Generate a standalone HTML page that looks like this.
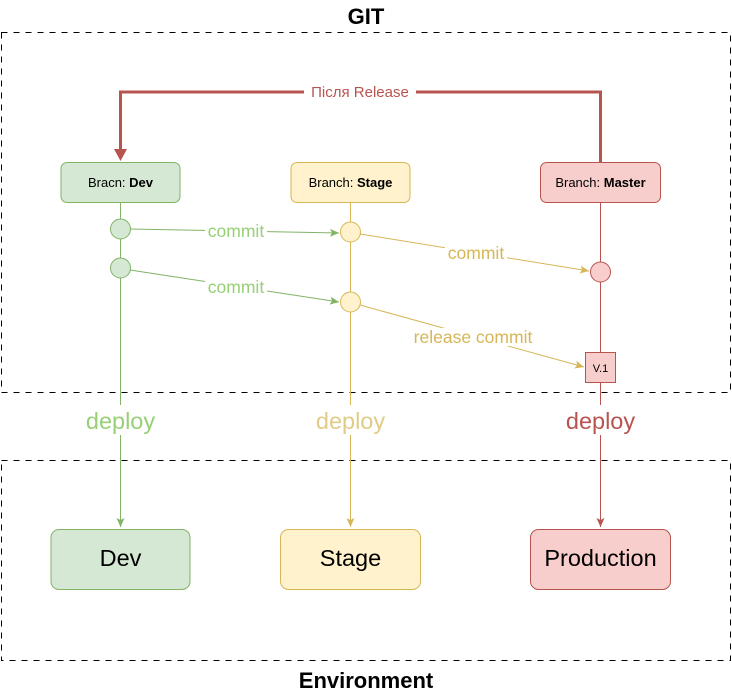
<!DOCTYPE html>
<html><head><meta charset="utf-8"><style>body{margin:0;background:#fff}svg{display:block}</style></head><body>
<svg width="732" height="696" xmlns="http://www.w3.org/2000/svg" font-family="Liberation Sans, Arial, sans-serif">
<defs>
<marker id="ag" markerWidth="10" markerHeight="10" refX="9" refY="5" orient="auto" markerUnits="userSpaceOnUse"><path d="M0,1 L9,5 L0,9 L2,5 z" fill="#82b366"/></marker>
<marker id="ay" markerWidth="10" markerHeight="10" refX="9" refY="5" orient="auto" markerUnits="userSpaceOnUse"><path d="M0,1 L9,5 L0,9 L2,5 z" fill="#d6b656"/></marker>
<marker id="ar" markerWidth="10" markerHeight="10" refX="9" refY="5" orient="auto" markerUnits="userSpaceOnUse"><path d="M0,1 L9,5 L0,9 L2,5 z" fill="#b85450"/></marker>
</defs>
<rect x="1.5" y="32.5" width="729" height="360" fill="none" stroke="#000" stroke-dasharray="6,6"/>
<rect x="1.5" y="460.5" width="729" height="200" fill="none" stroke="#000" stroke-dasharray="6,6"/>
<text x="366" y="24" text-anchor="middle" font-size="22" font-weight="bold">GIT</text>
<text x="366" y="688" text-anchor="middle" font-size="22" font-weight="bold">Environment</text>
<line x1="120.5" y1="202" x2="120.5" y2="527" stroke="#82b366" marker-end="url(#ag)"/>
<line x1="350.5" y1="202" x2="350.5" y2="527" stroke="#d6b656" marker-end="url(#ay)"/>
<line x1="600.5" y1="202" x2="600.5" y2="527" stroke="#b85450" marker-end="url(#ar)"/>
<path d="M600.5,162 V92 H120.5 V158" fill="none" stroke="#b85450" stroke-width="3"/>
<path d="M114,149 L127,149 L120.5,161 z" fill="#b85450"/>
<rect x="304" y="83" width="112" height="18" fill="#fff"/>
<text x="360" y="97" text-anchor="middle" font-size="15" fill="#b85450">Після Release</text>
<rect x="61" y="162.5" width="119" height="40" rx="6" fill="#d5e8d4" stroke="#82b366"/>
<text x="120.5" y="187" text-anchor="middle" font-size="13">Bracn: <tspan font-weight="bold">Dev</tspan></text>
<rect x="291" y="162.5" width="119" height="40" rx="6" fill="#fff2cc" stroke="#d6b656"/>
<text x="350.5" y="187" text-anchor="middle" font-size="13">Branch: <tspan font-weight="bold">Stage</tspan></text>
<rect x="540.5" y="162.5" width="120" height="40" rx="6" fill="#f8cecc" stroke="#b85450"/>
<text x="600.5" y="187" text-anchor="middle" font-size="13">Branch: <tspan font-weight="bold">Master</tspan></text>
<line x1="130" y1="229" x2="339" y2="233" stroke="#82b366" marker-end="url(#ag)"/>
<line x1="130" y1="270" x2="339" y2="302" stroke="#82b366" marker-end="url(#ag)"/>
<line x1="360" y1="234" x2="589" y2="271" stroke="#d6b656" marker-end="url(#ay)"/>
<line x1="360" y1="305" x2="584" y2="367" stroke="#d6b656" marker-end="url(#ay)"/>
<circle cx="120.5" cy="229" r="10" fill="#d5e8d4" stroke="#82b366"/>
<circle cx="120.5" cy="268" r="10" fill="#d5e8d4" stroke="#82b366"/>
<circle cx="350.5" cy="232" r="10" fill="#fff2cc" stroke="#d6b656"/>
<circle cx="350.5" cy="302" r="10" fill="#fff2cc" stroke="#d6b656"/>
<circle cx="600.5" cy="272" r="10" fill="#f8cecc" stroke="#b85450"/>
<rect x="585.5" y="352.5" width="30" height="30" fill="#f8cecc" stroke="#b85450"/>
<text x="600.5" y="372" text-anchor="middle" font-size="11">V.1</text>
<g font-size="17.5" text-anchor="middle">
<rect x="205" y="222" width="62" height="18" fill="#fff"/>
<text x="236" y="237" fill="#97d077">commit</text>
<rect x="205" y="278" width="62" height="18" fill="#fff"/>
<text x="236" y="293" fill="#97d077">commit</text>
<rect x="445" y="244" width="62" height="18" fill="#fff"/>
<text x="476" y="259" fill="#d6b656">commit</text>
<rect x="410" y="328" width="128" height="18" fill="#fff"/>
<text x="473" y="343" fill="#d6b656">release commit</text>
</g>
<g font-size="23.5" text-anchor="middle">
<rect x="80" y="405" width="82" height="30" fill="#fff"/>
<text x="120.5" y="429" fill="#97d077">deploy</text>
<rect x="310" y="405" width="82" height="30" fill="#fff"/>
<text x="350.5" y="429" fill="#e0cb87">deploy</text>
<rect x="560" y="405" width="82" height="30" fill="#fff"/>
<text x="600.5" y="429" fill="#b85450">deploy</text>
</g>
<rect x="51" y="529.5" width="139" height="60" rx="8" fill="#d5e8d4" stroke="#82b366"/>
<text x="120.5" y="566" text-anchor="middle" font-size="23.5">Dev</text>
<rect x="280.5" y="529.5" width="140" height="60" rx="8" fill="#fff2cc" stroke="#d6b656"/>
<text x="350.5" y="566" text-anchor="middle" font-size="23.5">Stage</text>
<rect x="530.5" y="529.5" width="140" height="60" rx="8" fill="#f8cecc" stroke="#b85450"/>
<text x="600.5" y="566" text-anchor="middle" font-size="23.5">Production</text>
</svg>
</body></html>
